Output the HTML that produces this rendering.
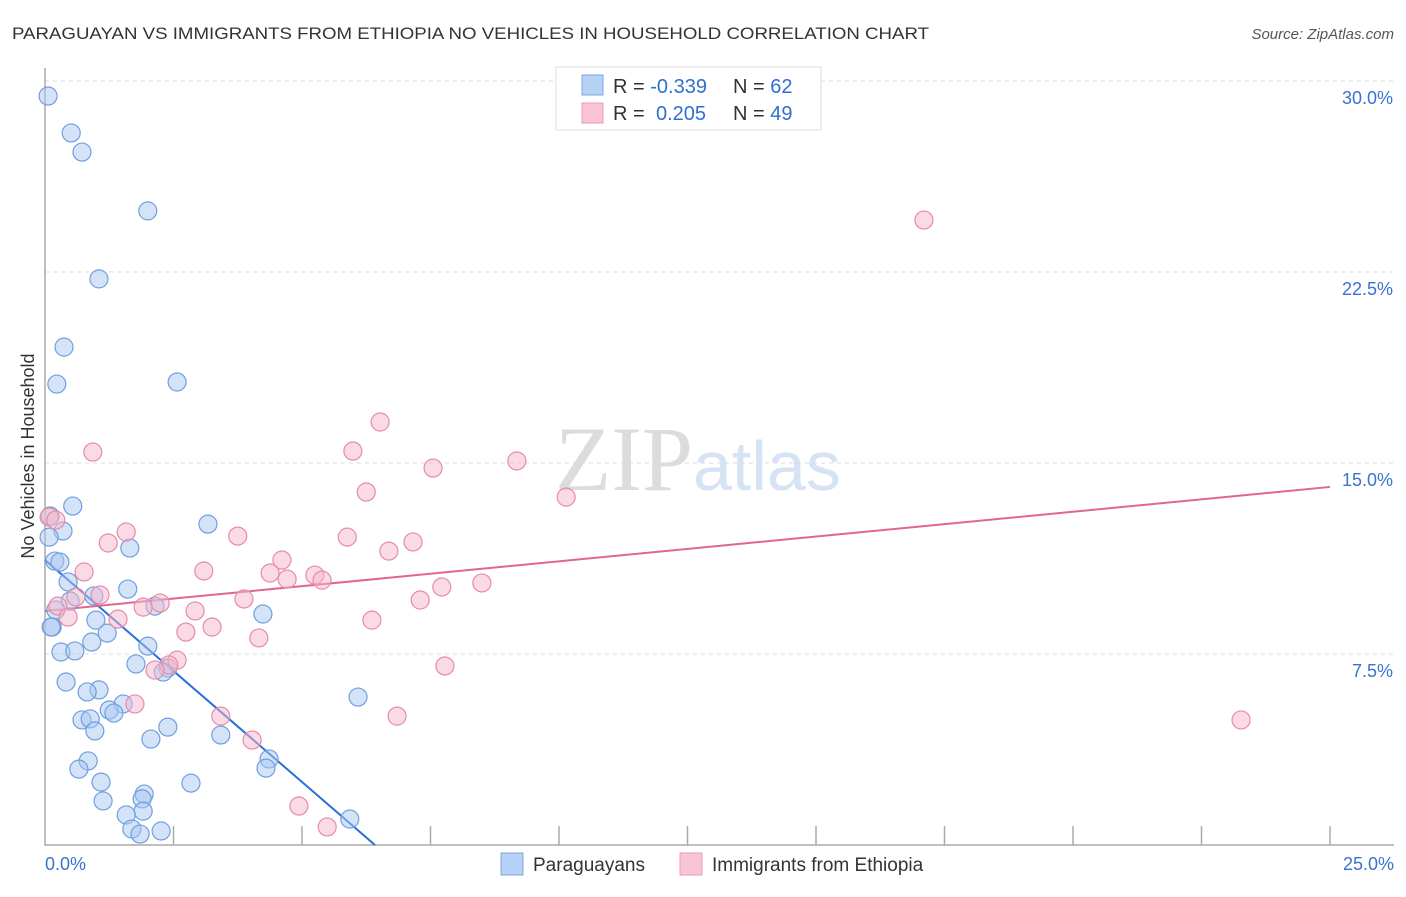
<!DOCTYPE html>
<html><head><meta charset="utf-8"><style>
body{margin:0;background:#fff;font-family:"Liberation Sans",sans-serif}
svg text{font-family:"Liberation Sans",sans-serif}
</style></head><body>
<svg id="chart" width="1406" height="892" viewBox="0 0 1406 892" xmlns="http://www.w3.org/2000/svg">
<text x="12" y="39" font-size="17" fill="#333" textLength="917" lengthAdjust="spacingAndGlyphs">PARAGUAYAN VS IMMIGRANTS FROM ETHIOPIA NO VEHICLES IN HOUSEHOLD CORRELATION CHART</text>
<text x="1394" y="39" font-size="15" fill="#555" font-style="italic" text-anchor="end">Source: ZipAtlas.com</text>
<text x="555" y="490" font-size="92" fill="#e4e4e4"><tspan font-family="Liberation Serif" fill="#dcdcdc">ZIP</tspan><tspan font-family="Liberation Sans" fill="#d6e3f5" font-size="70">atlas</tspan></text>
<g id="grid"></g>
<g id="axes"></g>
<g id="lines"></g>
<g id="pts"></g>
<text transform="translate(34,456) rotate(-90)" font-size="18" fill="#333" text-anchor="middle">No Vehicles in Household</text>
<g>
<rect x="556" y="67" width="265" height="63" fill="#fff" stroke="#ddd"/>
<rect x="582" y="75" width="21" height="20" fill="#b7d1f4" stroke="#7aa6e6"/>
<rect x="582" y="103" width="21" height="20" fill="#f9c4d3" stroke="#eb9ab4"/>
<text x="613" y="93" font-size="20" fill="#333">R = <tspan fill="#2f6fd0">-0.339</tspan>  <tspan x="733">N = </tspan><tspan fill="#2f6fd0">62</tspan></text>
<text x="613" y="120" font-size="20" fill="#333">R = <tspan x="656" fill="#2f6fd0">0.205</tspan><tspan x="733">N = </tspan><tspan fill="#2f6fd0">49</tspan></text>
</g>
<g>
<rect x="501" y="853" width="22" height="22" fill="#b7d1f4" stroke="#7aa6e6"/>
<text x="533" y="871" font-size="19" fill="#333">Paraguayans</text>
<rect x="680" y="853" width="22" height="22" fill="#f9c4d3" stroke="#eb9ab4"/>
<text x="712" y="871" font-size="19" fill="#333">Immigrants from Ethiopia</text>
</g>
</svg>
<script>
const yTicks=[7.5,15,22.5,30];
const yTickLabels=["7.5%","15.0%","22.5%","30.0%"];
const xTickLabels=["0.0%","25.0%"];
const blueX=[0.06,0.51,0.72,2.00,1.05,0.37,0.23,2.57,0.54,0.10,0.35,3.17,1.65,0.19,0.29,0.45,1.61,0.95,0.49,2.14,0.21,0.99,4.24,0.14,1.21,0.91,2.00,0.31,0.58,1.77,2.39,2.30,0.41,1.05,0.82,1.52,6.09,1.25,1.34,0.72,0.88,0.97,2.39,2.06,3.42,4.36,4.30,0.84,0.66,1.09,2.84,1.93,1.89,1.13,1.91,1.58,1.69,1.85,2.26,5.93,0.08,0.12];
const blueY=[29.41,27.96,27.21,24.90,22.23,19.55,18.10,18.18,13.31,12.92,12.33,12.60,11.66,11.15,11.11,10.33,10.05,9.78,9.58,9.38,9.23,8.83,9.07,8.56,8.32,7.97,7.81,7.58,7.62,7.11,6.95,6.79,6.40,6.09,6.01,5.54,5.81,5.30,5.18,4.91,4.95,4.48,4.63,4.16,4.32,3.38,3.02,3.30,2.98,2.47,2.43,2.00,1.81,1.73,1.33,1.18,0.63,0.43,0.55,1.02,12.09,8.56];
const pinkX=[17.10,6.52,0.93,5.99,9.18,7.55,6.25,10.14,0.08,0.21,1.58,3.75,5.88,1.23,7.16,6.69,4.61,0.76,3.09,4.38,4.71,5.25,5.39,8.50,7.72,1.07,0.60,3.87,7.30,2.24,0.25,1.91,2.92,0.45,1.42,6.36,3.25,2.74,4.16,2.57,2.41,2.14,7.78,23.27,6.85,3.42,1.75,4.03,4.94,5.49];
const pinkY=[24.54,16.61,15.43,15.47,15.08,14.80,13.86,13.66,12.88,12.76,12.29,12.13,12.09,11.86,11.90,11.54,11.19,10.72,10.76,10.68,10.44,10.60,10.40,10.29,10.13,9.82,9.74,9.66,9.62,9.50,9.38,9.34,9.19,8.95,8.87,8.83,8.56,8.36,8.13,7.26,7.07,6.87,7.03,4.91,5.06,5.06,5.54,4.12,1.53,0.71];
const blueTrend=[11.19,-1.743];
const pinkTrend=[9.19,14.06];
const NS="http://www.w3.org/2000/svg";
const X0=45,X1=1330,Y0=845,PXPER=191/7.5;
const sx=v=>X0+v/25*(X1-X0);
const sy=v=>Y0-v*PXPER;
function mk(t,a,p){const e=document.createElementNS(NS,t);for(const k in a)e.setAttribute(k,a[k]);document.getElementById(p).appendChild(e);return e;}
yTicks.forEach((v,i)=>{
 const l=mk('line',{x1:X0,x2:1394,y1:sy(v),y2:sy(v),stroke:'#ddd','stroke-dasharray':'4,4'},'grid');
 
 
 const t=mk('text',{x:1393,y:sy(v)+23,'font-size':18,fill:'#3a72d0','text-anchor':'end'},'grid');
 t.textContent=yTickLabels[i];
 
 
});
const ax=mk('path',{d:`M${X0},68V${Y0}H1394`,fill:'none',stroke:'#aaa','stroke-width':1.5},'axes');


for(let i=1;i<=10;i++){
 const tk=mk('line',{x1:sx(i*2.5),x2:sx(i*2.5),y1:826,y2:Y0,stroke:'#aaa','stroke-width':1.5},'axes');
 
 
}
[[0,'start',45],[25,'end',1394]].forEach((d,i)=>{
 const t=mk('text',{x:d[2],y:870,'font-size':18,fill:'#3a72d0','text-anchor':d[1]},'axes');
 t.textContent=xTickLabels[i];
 
 
});
function pts(xs,ys,fill,stroke,name){
 xs.forEach((x,i)=>{
  const c=mk('circle',{cx:sx(x),cy:sy(ys[i]),r:9,fill:fill,'fill-opacity':0.5,stroke:stroke,'stroke-width':1.2},'pts');
  
  
 });
}
pts(blueX,blueY,'#a9c8f0','#6f9fe0','paraguayan-point');
pts(pinkX,pinkY,'#f5b8cb','#e88aa8','ethiopia-point');
const bxEnd=-blueTrend[0]/blueTrend[1];
const bl=mk('line',{x1:sx(0),y1:sy(blueTrend[0]),x2:sx(bxEnd),y2:sy(0),stroke:'#2a6fd6','stroke-width':2},'lines');


const pl=mk('line',{x1:sx(0),y1:sy(pinkTrend[0]),x2:sx(25),y2:sy(pinkTrend[1]),stroke:'#e0668f','stroke-width':2},'lines');


</script>
</body></html>
